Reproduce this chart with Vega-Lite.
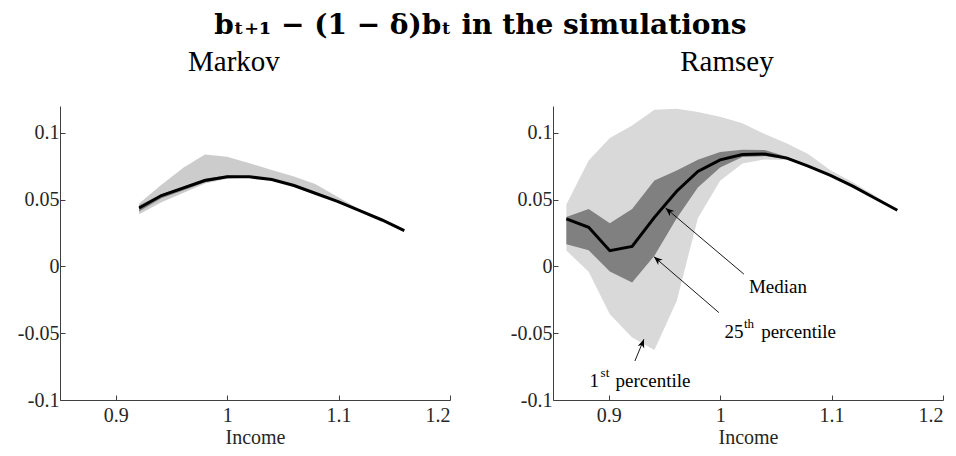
{
  "$schema": "https://vega.github.io/schema/vega-lite/v6.json",
  "background": "white",
  "padding": {"left": 17, "top": 12, "right": 5, "bottom": 5},
  "title": {"text": "bₜ₊₁ − (1 − δ)bₜ in the simulations", "font": "DejaVu Serif", "fontSize": 28, "fontWeight": "bold", "anchor": "middle", "offset": 8, "color": "black"},
  "spacing": 59,
  "datasets": {
    "sim": [
      {"panel": "Markov", "x": 0.921, "p1": 0.039, "p25": 0.041, "med": 0.0437, "p75": 0.0455, "p99": 0.047},
      {"panel": "Markov", "x": 0.941, "p1": 0.048, "p25": 0.051, "med": 0.053, "p75": 0.054, "p99": 0.061},
      {"panel": "Markov", "x": 0.961, "p1": 0.055, "p25": 0.057, "med": 0.0587, "p75": 0.060, "p99": 0.074},
      {"panel": "Markov", "x": 0.980, "p1": 0.062, "p25": 0.063, "med": 0.0642, "p75": 0.0655, "p99": 0.0837},
      {"panel": "Markov", "x": 1.000, "p1": 0.0655, "p25": 0.066, "med": 0.067, "p75": 0.068, "p99": 0.082},
      {"panel": "Markov", "x": 1.020, "p1": 0.0665, "p25": 0.0668, "med": 0.067, "p75": 0.0675, "p99": 0.0772},
      {"panel": "Markov", "x": 1.040, "p1": 0.0645, "p25": 0.0648, "med": 0.065, "p75": 0.0652, "p99": 0.0722},
      {"panel": "Markov", "x": 1.060, "p1": 0.060, "p25": 0.0603, "med": 0.0605, "p75": 0.0607, "p99": 0.0672},
      {"panel": "Markov", "x": 1.079, "p1": 0.0543, "p25": 0.0545, "med": 0.0547, "p75": 0.0549, "p99": 0.0617},
      {"panel": "Markov", "x": 1.099, "p1": 0.0485, "p25": 0.0486, "med": 0.0487, "p75": 0.0488, "p99": 0.052},
      {"panel": "Markov", "x": 1.119, "p1": 0.0416, "p25": 0.0416, "med": 0.0417, "p75": 0.0418, "p99": 0.0425},
      {"panel": "Markov", "x": 1.139, "p1": 0.0347, "p25": 0.0347, "med": 0.0347, "p75": 0.0347, "p99": 0.0347},
      {"panel": "Markov", "x": 1.159, "p1": 0.0267, "p25": 0.0267, "med": 0.0267, "p75": 0.0267, "p99": 0.0267},
      {"panel": "Ramsey", "x": 0.862, "p1": 0.0118, "p25": 0.0165, "med": 0.0355, "p75": 0.037, "p99": 0.0462},
      {"panel": "Ramsey", "x": 0.882, "p1": -0.004, "p25": 0.012, "med": 0.0292, "p75": 0.043, "p99": 0.0792},
      {"panel": "Ramsey", "x": 0.901, "p1": -0.0358, "p25": -0.0038, "med": 0.0117, "p75": 0.0322, "p99": 0.096},
      {"panel": "Ramsey", "x": 0.921, "p1": -0.0533, "p25": -0.0121, "med": 0.0149, "p75": 0.043, "p99": 0.1055},
      {"panel": "Ramsey", "x": 0.941, "p1": -0.0625, "p25": 0.008, "med": 0.0367, "p75": 0.0642, "p99": 0.1172},
      {"panel": "Ramsey", "x": 0.961, "p1": -0.026, "p25": 0.036, "med": 0.0562, "p75": 0.0717, "p99": 0.118},
      {"panel": "Ramsey", "x": 0.980, "p1": 0.036, "p25": 0.059, "med": 0.071, "p75": 0.0797, "p99": 0.1155},
      {"panel": "Ramsey", "x": 1.000, "p1": 0.064, "p25": 0.074, "med": 0.0797, "p75": 0.0855, "p99": 0.112},
      {"panel": "Ramsey", "x": 1.020, "p1": 0.077, "p25": 0.0818, "med": 0.0837, "p75": 0.0872, "p99": 0.107},
      {"panel": "Ramsey", "x": 1.040, "p1": 0.080, "p25": 0.0825, "med": 0.084, "p75": 0.087, "p99": 0.099},
      {"panel": "Ramsey", "x": 1.060, "p1": 0.0795, "p25": 0.080, "med": 0.081, "p75": 0.082, "p99": 0.092},
      {"panel": "Ramsey", "x": 1.079, "p1": 0.074, "p25": 0.0745, "med": 0.075, "p75": 0.0755, "p99": 0.084},
      {"panel": "Ramsey", "x": 1.099, "p1": 0.0675, "p25": 0.0678, "med": 0.068, "p75": 0.0682, "p99": 0.072},
      {"panel": "Ramsey", "x": 1.119, "p1": 0.0595, "p25": 0.0598, "med": 0.060, "p75": 0.0602, "p99": 0.063},
      {"panel": "Ramsey", "x": 1.139, "p1": 0.0505, "p25": 0.0508, "med": 0.051, "p75": 0.0512, "p99": 0.053},
      {"panel": "Ramsey", "x": 1.159, "p1": 0.042, "p25": 0.042, "med": 0.042, "p75": 0.042, "p99": 0.0425}
    ],
    "notes": [
      {"label": "Median", "x": 1.0258, "y": -0.0196, "kind": "main"},
      {"label": "25", "x": 1.0039, "y": -0.0538, "kind": "main"},
      {"label": "th", "x": 1.0213, "y": -0.0458, "kind": "sup"},
      {"label": "percentile", "x": 1.0368, "y": -0.0538, "kind": "main"},
      {"label": "1", "x": 0.8828, "y": -0.0903, "kind": "main"},
      {"label": "st", "x": 0.8927, "y": -0.0826, "kind": "sup"},
      {"label": "percentile", "x": 0.9061, "y": -0.0903, "kind": "main"}
    ],
    "arrows": [
      {"name": "Median", "tx": 1.0213, "ty": -0.0058, "hx": 0.951, "hy": 0.0437},
      {"name": "p25", "tx": 0.9989, "ty": -0.0346, "hx": 0.9406, "hy": 0.0072},
      {"name": "p1", "tx": 0.9235, "ty": -0.0708, "hx": 0.9316, "hy": -0.0545}
    ]
  },
  "hconcat": [
    {
      "width": 390,
      "height": 294,
      "title": {"text": "Markov"},
      "data": {"name": "sim"},
      "transform": [{"filter": "datum.panel == 'Markov'"}],
      "encoding": {
        "x": {"field": "x", "type": "quantitative", "scale": {"domain": [0.85, 1.2], "nice": false, "zero": false}, "axis": {"values": [0.9, 1, 1.1, 1.2], "labelExpr": "format(datum.value, '')", "title": "Income", "labelFont": "Liberation Serif", "labelFontSize": 20}}
      },
      "layer": [
        {"mark": {"type": "area", "color": "#cccccc"}, "encoding": {"y": {"field": "p1", "type": "quantitative", "scale": {"domain": [-0.1, 0.12], "nice": false, "zero": false}, "axis": {"values": [-0.1, -0.05, 0, 0.05, 0.1], "labelExpr": "(datum.value < 0 ? '-' : '') + format(abs(datum.value), '')", "title": null, "labelFont": "Liberation Serif", "labelFontSize": 20}}, "y2": {"field": "p99"}}},
        {"mark": {"type": "area", "color": "#808080"}, "encoding": {"y": {"field": "p25", "type": "quantitative"}, "y2": {"field": "p75"}}},
        {"mark": {"type": "line", "color": "black", "strokeWidth": 3}, "encoding": {"y": {"field": "med", "type": "quantitative"}}}
      ]
    },
    {
      "width": 390,
      "height": 294,
      "title": {"text": "Ramsey"},
      "encoding": {
        "x": {"field": "x", "type": "quantitative", "scale": {"domain": [0.85, 1.2], "nice": false, "zero": false}, "axis": {"values": [0.9, 1, 1.1, 1.2], "labelExpr": "format(datum.value, '')", "title": "Income", "labelFont": "Liberation Serif", "labelFontSize": 20}}
      },
      "layer": [
        {"data": {"name": "sim"}, "transform": [{"filter": "datum.panel == 'Ramsey'"}], "mark": {"type": "area", "color": "#d9d9d9"}, "encoding": {"y": {"field": "p1", "type": "quantitative", "scale": {"domain": [-0.1, 0.12], "nice": false, "zero": false}, "axis": {"values": [-0.1, -0.05, 0, 0.05, 0.1], "labelExpr": "(datum.value < 0 ? '-' : '') + format(abs(datum.value), '')", "title": null, "labelFont": "Liberation Serif", "labelFontSize": 20}}, "y2": {"field": "p99"}}},
        {"data": {"name": "sim"}, "transform": [{"filter": "datum.panel == 'Ramsey'"}], "mark": {"type": "area", "color": "#808080"}, "encoding": {"y": {"field": "p25", "type": "quantitative"}, "y2": {"field": "p75"}}},
        {"data": {"name": "sim"}, "transform": [{"filter": "datum.panel == 'Ramsey'"}], "mark": {"type": "line", "color": "black", "strokeWidth": 3}, "encoding": {"y": {"field": "med", "type": "quantitative"}}},
        {"data": {"name": "arrows"}, "mark": {"type": "rule", "color": "black", "strokeWidth": 0.9}, "encoding": {"x": {"field": "tx", "type": "quantitative"}, "y": {"field": "ty", "type": "quantitative"}, "x2": {"field": "hx"}, "y2": {"field": "hy"}}},
        {"data": {"name": "arrows"}, "transform": [{"filter": "datum.name == 'Median'"}], "mark": {"type": "point", "filled": true, "color": "black", "opacity": 1, "size": 300, "angle": 220.6, "shape": "M0,0L-1,-0.4L-0.7,0L-1,0.4Z"}, "encoding": {"x": {"field": "hx", "type": "quantitative"}, "y": {"field": "hy", "type": "quantitative"}}},
        {"data": {"name": "arrows"}, "transform": [{"filter": "datum.name == 'p25'"}], "mark": {"type": "point", "filled": true, "color": "black", "opacity": 1, "size": 300, "angle": 221.1, "shape": "M0,0L-1,-0.4L-0.7,0L-1,0.4Z"}, "encoding": {"x": {"field": "hx", "type": "quantitative"}, "y": {"field": "hy", "type": "quantitative"}}},
        {"data": {"name": "arrows"}, "transform": [{"filter": "datum.name == 'p1'"}], "mark": {"type": "point", "filled": true, "color": "black", "opacity": 1, "size": 300, "angle": 290.3, "shape": "M0,0L-1,-0.4L-0.7,0L-1,0.4Z"}, "encoding": {"x": {"field": "hx", "type": "quantitative"}, "y": {"field": "hy", "type": "quantitative"}}},
        {"data": {"name": "notes"}, "transform": [{"filter": "datum.kind == 'main'"}], "mark": {"type": "text", "font": "Liberation Serif", "fontSize": 19, "align": "left", "baseline": "alphabetic", "color": "black"}, "encoding": {"x": {"field": "x", "type": "quantitative"}, "y": {"field": "y", "type": "quantitative"}, "text": {"field": "label"}}},
        {"data": {"name": "notes"}, "transform": [{"filter": "datum.kind == 'sup'"}], "mark": {"type": "text", "font": "Liberation Serif", "fontSize": 13, "align": "left", "baseline": "alphabetic", "color": "black"}, "encoding": {"x": {"field": "x", "type": "quantitative"}, "y": {"field": "y", "type": "quantitative"}, "text": {"field": "label"}}}
      ]
    }
  ],
  "config": {
    "view": {"stroke": null},
    "font": "Liberation Serif",
    "axis": {"grid": false, "domainColor": "#404040", "tickColor": "#404040", "domainWidth": 1, "tickSize": -5, "labelFont": "Liberation Serif", "labelFontSize": 20, "labelColor": "#262626", "titleFont": "Liberation Serif", "titleFontSize": 20, "titleFontWeight": "normal", "titleColor": "#262626"},
    "axisX": {"labelPadding": 10, "titlePadding": 2},
    "axisY": {"labelPadding": 6},
    "title": {"font": "Liberation Serif", "fontSize": 29, "fontWeight": "normal", "color": "black", "frame": "bounds", "anchor": "middle", "offset": 29}
  }
}
